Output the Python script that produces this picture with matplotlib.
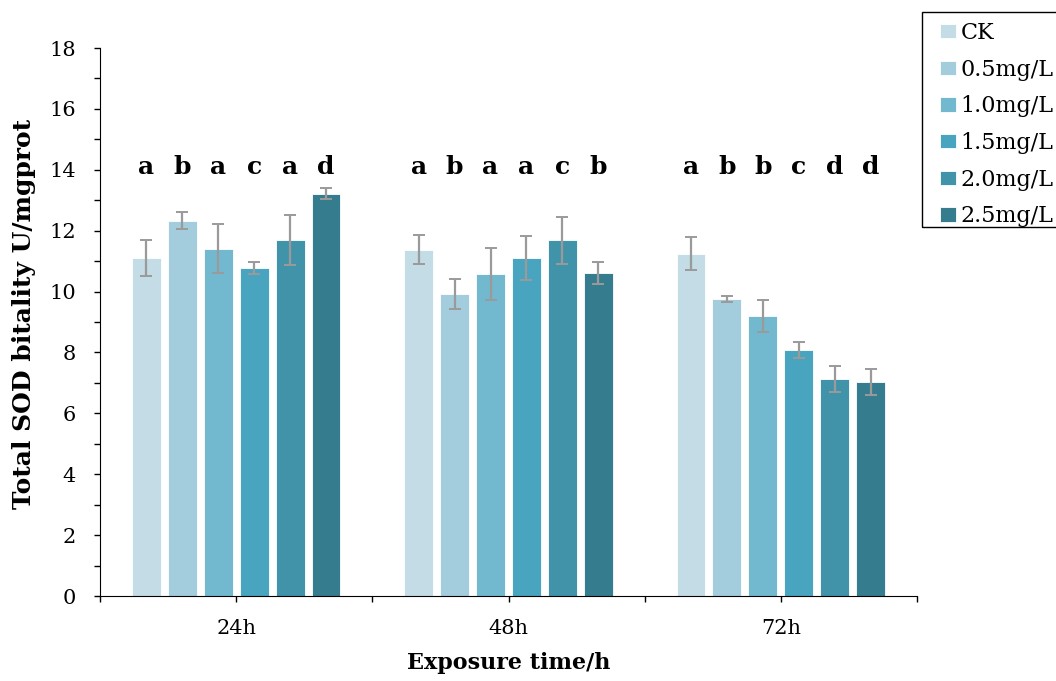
import numpy as np
import matplotlib
matplotlib.use('Agg')
import matplotlib.pyplot as plt
from matplotlib.patches import Rectangle
from matplotlib.ticker import MultipleLocator, FixedLocator

plt.rcParams['font.family'] = ['DejaVu Serif', 'Liberation Serif']

# data
times = ['24h', '48h', '72h']
groups = ['CK', '0.5mg/L', '1.0mg/L', '1.5mg/L', '2.0mg/L', '2.5mg/L']
ck = [11.10, 11.37, 11.25]
c05 = [12.32, 9.92, 9.77]
c10 = [11.41, 10.57, 9.19]
c15 = [10.78, 11.10, 8.08]
c20 = [11.68, 11.68, 7.13]
c25 = [13.21, 10.61, 7.03]
ck_err = [0.58, 0.48, 0.53]
c05_err = [0.28, 0.50, 0.10]
c10_err = [0.80, 0.85, 0.53]
c15_err = [0.19, 0.72, 0.27]
c20_err = [0.82, 0.77, 0.42]
c25_err = [0.18, 0.37, 0.43]
letters_24 = ['a', 'b', 'a', 'c', 'a', 'd']
letters_48 = ['a', 'b', 'a', 'a', 'c', 'b']
letters_72 = ['a', 'b', 'b', 'c', 'd', 'd']

colors = ['#c3dce5', '#a3ccdc', '#72b8ce', '#49a5bf', '#4193aa', '#357c8f']

values = [ck, c05, c10, c15, c20, c25]
errors = [ck_err, c05_err, c10_err, c15_err, c20_err, c25_err]
letters = [letters_24, letters_48, letters_72]

W, H = 1056, 681
fig = plt.figure(figsize=(W / 100, H / 100), dpi=100)
ax = fig.add_axes([100 / W, 1 - 596 / H, 817 / W, 548 / H])

x = np.arange(len(times))
step = 0.132
width = 0.106
for i in range(len(groups)):
    pos = x + (i - 2.5) * step
    ax.bar(pos, values[i], width, color=colors[i], edgecolor='white', linewidth=0.6,
           label=groups[i], zorder=2)
    ax.errorbar(pos, values[i], yerr=errors[i], fmt='none', ecolor='#9a9a9a',
                elinewidth=1.6, capsize=4.5, capthick=1.4, zorder=3)
    for j in range(len(times)):
        ax.text(pos[j], 14.1, letters[j][i], ha='center', va='center',
                fontsize=18, fontweight='bold')

ax.set_xlim(-0.5, 2.5)
ax.set_ylim(0, 18)
ax.set_xticks(x)
ax.set_xticklabels(times, fontsize=15)
ax.xaxis.set_minor_locator(FixedLocator([-0.5, 0.5, 1.5, 2.5]))
ax.yaxis.set_major_locator(MultipleLocator(2))
ax.yaxis.set_minor_locator(MultipleLocator(1))
ax.tick_params(axis='y', labelsize=15, length=4.5, width=1, pad=13)
ax.tick_params(axis='y', which='minor', length=4, width=1)
ax.tick_params(axis='x', which='both', length=4.5, width=1, pad=12)
ax.spines['top'].set_visible(False)
ax.spines['right'].set_visible(False)

ax.set_xlabel('Exposure time/h', fontsize=16, fontweight='bold')
ax.xaxis.set_label_coords(0.5, -0.103)
ax.set_ylabel('Total SOD bitality U/mgprot', fontsize=18, fontweight='bold')
ax.yaxis.set_label_coords(-0.078, 0.515)

# legend box runs past the right edge of the picture
fig.patches.append(Rectangle((922 / W, 1 - 227 / H), 200 / W, 215 / H,
                             transform=fig.transFigure, fill=False,
                             edgecolor='black', linewidth=1))
leg = fig.legend(loc='upper left', bbox_to_anchor=(940 / W, 1 - 22 / H),
                 fontsize=16, frameon=False, borderpad=0, borderaxespad=0,
                 handlelength=0.72, handleheight=0.62, handletextpad=0.2,
                 labelspacing=0.66)

fig.savefig('out.png', dpi=100)
